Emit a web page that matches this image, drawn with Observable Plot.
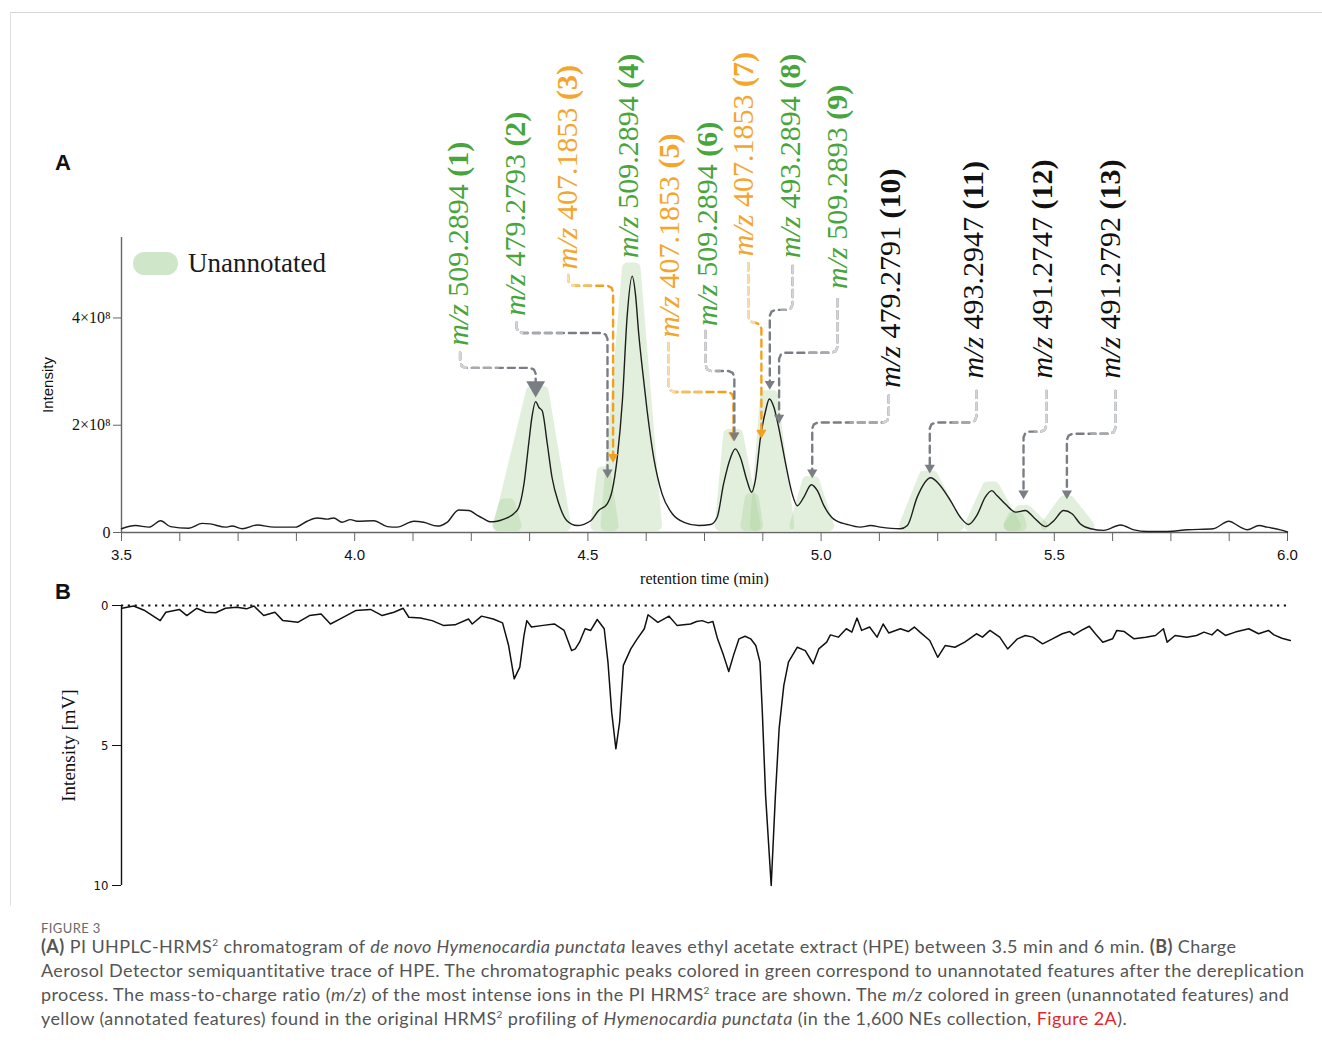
<!DOCTYPE html>
<html><head><meta charset="utf-8">
<script src="https://cdn.jsdelivr.net/npm/d3@7"></script>
<script src="https://cdn.jsdelivr.net/npm/@observablehq/plot@0.6"></script>
<style>
body{margin:0;background:#fff;width:1322px;height:1050px;position:relative;overflow:hidden;font-family:"Liberation Sans",Arial,sans-serif;}
#box{position:absolute;left:10px;top:12px;width:1312px;height:893px;border-top:1px solid #d4d4d4;border-left:1px solid #e0e0e0;}
.panel{position:absolute;left:0;}
#A{top:30px}
#B{top:595px}
.plab{position:absolute;left:55px;font:bold 22px "Liberation Sans",Arial,sans-serif;color:#111}
#legend{position:absolute;left:133px;top:248px;display:flex;align-items:center;}
#legend .sw{width:45px;height:23px;border-radius:12px;background:#d0e6c8;}
#legend span{margin-left:10px;font:27px "Liberation Serif","Times New Roman",serif;color:#1a1a1a}
#figno{position:absolute;left:41px;top:920px;font:13px Lato,"Open Sans",sans-serif;color:#6b6b6b;letter-spacing:0.4px}
#cap{position:absolute;left:41px;top:934px;font:18px/24px Lato,"Open Sans",sans-serif;letter-spacing:0.42px;color:#555;white-space:nowrap}
#cap .red{color:#e3262d}
#cap sup{font-size:10px;line-height:0;vertical-align:7px}
</style></head>
<body>
<div id="box"></div>
<div class="plab" style="top:150px">A</div>
<div class="plab" style="top:579px">B</div>
<div id="A" class="panel"></div>
<div id="B" class="panel"></div>
<div id="legend"><div class="sw"></div><span>Unannotated</span></div>
<div id="figno">FIGURE 3</div>
<div id="cap"><b>(A)</b> PI UHPLC-HRMS<sup>2</sup> chromatogram of <i>de novo Hymenocardia punctata</i> leaves ethyl acetate extract (HPE) between 3.5 min and 6 min. <b>(B)</b> Charge<br>Aerosol Detector semiquantitative trace of HPE. The chromatographic peaks colored in green correspond to unannotated features after the dereplication<br>process. The mass-to-charge ratio (<i>m/z</i>) of the most intense ions in the PI HRMS<sup>2</sup> trace are shown. The <i>m/z</i> colored in green (unannotated features) and<br>yellow (annotated features) found in the original HRMS<sup>2</sup> profiling of <i>Hymenocardia punctata</i> (in the 1,600 NEs collection, <span class="red">Figure 2A</span>).</div>
<script>
// ---------- DATA ----------
// Panel A: PI UHPLC-HRMS2 trace (retention time in min, intensity in 1e8)
const traceA_t = [3.500,3.530,3.559,3.584,3.605,3.644,3.673,3.690,3.723,3.737,3.759,3.791,3.827,3.873,3.898,3.920,3.941,3.955,3.973,3.991,4.005,4.041,4.070,4.091,4.127,4.148,4.177,4.198,4.223,4.245,4.263,4.276,4.290,4.305,4.320,4.341,4.352,4.363,4.373,4.380,4.388,4.395,4.402,4.413,4.423,4.438,4.455,4.477,4.506,4.523,4.541,4.552,4.563,4.574,4.584,4.595,4.602,4.609,4.616,4.627,4.641,4.659,4.681,4.706,4.738,4.763,4.777,4.791,4.806,4.816,4.827,4.841,4.851,4.859,4.870,4.881,4.889,4.899,4.909,4.924,4.938,4.949,4.963,4.979,4.992,5.006,5.027,5.056,5.084,5.106,5.127,5.170,5.185,5.206,5.235,5.252,5.277,5.299,5.316,5.334,5.352,5.366,5.377,5.395,5.417,5.438,5.456,5.481,5.499,5.520,5.538,5.556,5.578,5.606,5.642,5.671,5.699,5.742,5.785,5.841,5.874,5.899,5.914,5.939,5.956,5.985,6.000];
const traceA_I = [0.07,0.13,0.10,0.22,0.11,0.08,0.17,0.16,0.10,0.12,0.07,0.14,0.10,0.10,0.21,0.27,0.25,0.27,0.19,0.24,0.21,0.22,0.11,0.10,0.21,0.19,0.12,0.19,0.42,0.41,0.32,0.26,0.20,0.21,0.25,0.35,0.47,0.91,1.65,2.15,2.44,2.33,2.27,1.65,1.03,0.53,0.22,0.13,0.22,0.41,0.53,0.78,1.40,2.46,4.01,4.78,4.44,3.70,3.11,2.27,1.40,0.72,0.35,0.19,0.13,0.15,0.28,0.91,1.40,1.56,1.40,0.97,0.75,0.97,1.77,2.27,2.49,2.33,1.96,1.28,0.72,0.50,0.66,0.89,0.78,0.50,0.25,0.15,0.10,0.13,0.10,0.07,0.13,0.66,1.02,0.91,0.60,0.28,0.15,0.32,0.66,0.78,0.69,0.53,0.38,0.41,0.28,0.11,0.22,0.41,0.35,0.16,0.07,0.04,0.14,0.05,0.02,0.02,0.05,0.07,0.21,0.10,0.05,0.13,0.10,0.05,0.01];

// Panel B: Charged Aerosol Detector trace (mV, drawn downward)
const traceB_t = [3.501,3.526,3.550,3.583,3.595,3.624,3.640,3.661,3.681,3.702,3.723,3.747,3.768,3.784,3.805,3.829,3.846,3.878,3.903,3.928,3.948,3.969,4.002,4.034,4.059,4.084,4.104,4.116,4.141,4.166,4.190,4.215,4.244,4.252,4.272,4.297,4.317,4.330,4.342,4.354,4.363,4.369,4.379,4.404,4.428,4.449,4.465,4.473,4.482,4.494,4.506,4.520,4.535,4.543,4.551,4.560,4.568,4.576,4.592,4.605,4.621,4.629,4.650,4.674,4.691,4.720,4.733,4.745,4.758,4.768,4.778,4.791,4.802,4.812,4.824,4.837,4.849,4.860,4.869,4.874,4.881,4.893,4.902,4.910,4.920,4.930,4.949,4.966,4.983,4.995,5.012,5.020,5.037,5.054,5.066,5.077,5.087,5.104,5.120,5.133,5.145,5.170,5.187,5.200,5.212,5.233,5.250,5.266,5.287,5.308,5.333,5.346,5.362,5.383,5.400,5.421,5.438,5.454,5.475,5.496,5.517,5.533,5.542,5.558,5.575,5.588,5.604,5.625,5.634,5.650,5.671,5.696,5.717,5.734,5.742,5.759,5.784,5.805,5.821,5.838,5.850,5.867,5.888,5.917,5.938,5.959,5.971,5.988,6.006];
const traceB_v = [0.10,0.02,0.18,0.54,0.24,0.14,0.36,0.10,0.24,0.26,0.10,0.06,0.12,0.02,0.36,0.24,0.54,0.60,0.36,0.30,0.66,0.48,0.18,0.14,0.36,0.24,0.10,0.42,0.45,0.54,0.71,0.69,0.48,0.66,0.38,0.48,0.62,1.43,2.62,2.20,1.07,0.54,0.77,0.71,0.66,0.89,1.61,1.55,1.31,0.83,0.89,0.50,0.83,2.02,3.81,5.12,4.17,2.14,1.55,1.21,0.83,0.33,0.60,0.38,0.71,0.66,0.57,0.54,0.62,0.57,1.19,1.79,2.36,1.79,1.19,1.10,1.19,1.43,2.02,3.81,6.79,10.0,6.79,4.40,2.86,2.02,1.49,1.61,2.08,1.55,1.31,1.05,1.13,0.83,0.95,0.45,0.89,0.77,1.13,0.66,0.98,0.83,0.93,0.77,0.95,1.25,1.85,1.43,1.49,1.31,1.01,1.13,0.89,1.13,1.55,1.19,1.07,1.13,1.37,1.19,1.01,0.93,1.05,0.89,0.74,1.01,1.31,1.19,0.89,0.93,1.19,1.13,1.07,0.83,1.31,1.07,1.13,1.07,0.95,1.05,0.86,1.07,0.95,0.83,1.01,0.89,1.05,1.17,1.25];

// Unannotated (green) peak regions: left foot, top-left, top-right, right foot, height (1e8)
const blobL   = [4.308,4.310,4.518,4.540,4.785,4.840,4.860,4.945,5.180,5.320,5.405,5.404,5.484];
const blobTL  = [4.322,4.380,4.532,4.586,4.803,4.849,4.882,4.972,5.222,5.358,5.428,5.412,5.522];
const blobTR  = [4.333,4.405,4.538,4.602,4.822,4.856,4.897,4.986,5.240,5.372,5.442,5.424,5.533];
const blobR   = [4.347,4.453,4.555,4.648,4.860,4.865,4.932,5.017,5.296,5.418,5.475,5.430,5.575];
const blobTop = [0.52,2.62,1.12,4.92,1.82,0.62,2.54,0.94,1.04,0.84,0.40,0.28,0.58];

// m/z labels
const labelText = ["m/z 509.2894 (1)","m/z 479.2793 (2)","m/z 407.1853 (3)","m/z 509.2894 (4)","m/z 407.1853 (5)","m/z 509.2894 (6)","m/z 407.1853 (7)","m/z 493.2894 (8)","m/z 509.2893 (9)","m/z 479.2791 (10)","m/z 493.2947 (11)","m/z 491.2747 (12)","m/z 491.2792 (13)"];
const labelKind = ["unannotated","unannotated","annotated","unannotated","annotated","unannotated","annotated","unannotated","unannotated","new","new","new","new"];
const labelT    = [4.2226,4.3448,4.4563,4.5871,4.675,4.7564,4.8336,4.9344,5.0352,5.1488,5.3268,5.4747,5.6205];
const labelI    = [3.48,4.04,4.91,5.12,3.63,3.85,5.15,5.12,4.54,2.70,2.87,2.87,2.87];

// leader lines: label foot (t, I), elbow level, target retention time, arrow level
const connKind    = ["neutral","neutral","annotated","annotated","neutral","annotated","neutral","neutral","neutral","neutral","neutral","neutral"];
const connT0      = [4.226,4.347,4.458,4.673,4.752,4.844,4.939,5.035,5.145,5.333,5.483,5.631];
const connStartI  = [3.35,3.91,4.80,3.53,3.76,5.02,4.97,4.35,2.55,2.64,2.64,2.64];
const connElbowI  = [3.07,3.72,4.60,2.62,3.01,3.91,4.15,3.35,2.05,2.05,1.88,1.84];
const connTargetT = [4.388,4.542,4.554,4.812,4.814,4.872,4.890,4.910,4.981,5.233,5.434,5.527];
const connArrowI  = [2.72,1.12,1.41,1.81,1.81,1.86,2.77,2.14,1.12,1.21,0.73,0.73];

// axes
const xMajor = [3.5,4.0,4.5,5.0,5.5,6.0];
const xMinor = [3.625,3.75,3.875,4.125,4.25,4.375,4.625,4.75,4.875,5.125,5.25,5.375,5.625,5.75,5.875];
const yTicksA = [0,2,4];
const yTicksB = [0,5,10];

// ---------- BUILD ----------
const serif = '"Liberation Serif","Times New Roman",serif';
const sans = '"Liberation Sans",Arial,sans-serif';
const narrow = '"Liberation Sans Narrow","Arial Narrow","DejaVu Sans Condensed",sans-serif';
const labelColor = {unannotated: "#48a53b", annotated: "#f4a52a", new: "#111"};
const conn3 = {neutral: ["#7a7e84","#a6a9ad","#d2d4d6"], annotated: ["#f3a01c","#f6bd63","#fadcab"]};

const traceA = traceA_t.map((t, i) => ({t, I: traceA_I[i]}));
const traceB = traceB_t.map((t, i) => ({t, v: traceB_v[i]}));
const blobBase = 0.12;
const blobs = blobL.map((l, i) => [
  {t: l, I: blobBase}, {t: blobTL[i], I: blobTop[i]}, {t: blobTR[i], I: blobTop[i]}, {t: blobR[i], I: blobBase}
]);
const labels = labelText.map((text, i) => ({text, t: labelT[i], I: labelI[i], color: labelColor[labelKind[i]]}));

function connPts(i) {
  const t0 = connT0[i], s = connStartI[i], e = connElbowI[i], t1 = connTargetT[i], a = connArrowI[i];
  const sg = Math.sign(t1 - t0) || 1;
  const rx = Math.min(0.012, Math.abs(t1 - t0) / 2), ry = Math.min(0.11, (s - e) / 2), ry2 = 0.11;
  const full = [[t0, s], [t0, e + ry], [t0 + sg * rx * 0.3, e + ry * 0.3], [t0 + sg * rx, e],
                [t1 - sg * rx, e], [t1 - sg * rx * 0.3, e - ry2 * 0.3], [t1, e - ry2], [t1, a]];
  const light = full.slice(0, 4);
  const mid = full.slice(0, 4).concat([[(t0 + t1) / 2, e]]);
  return {full, light, mid};
}
const connRows = {full: [], mid: [], light: []};
connT0.forEach((_, i) => {
  const p = connPts(i), cols = conn3[connKind[i]];
  p.full.forEach(([t, I]) => connRows.full.push({id: i, t, I, c: cols[0]}));
  p.mid.forEach(([t, I]) => connRows.mid.push({id: i, t, I, c: cols[1]}));
  p.light.forEach(([t, I]) => connRows.light.push({id: i, t, I, c: cols[2]}));
});
const arrows = connT0.map((_, i) => ({t: connTargetT[i], I: connArrowI[i], c: connKind[i] === "annotated" ? "#f3a01c" : "#7a7e84", big: i === 0}));

const dash = {strokeDasharray: "7,5", strokeWidth: 2.4, curve: "linear", strokeLinejoin: "round"};

const plotA = Plot.plot({
  width: 1322, height: 572, marginTop: 207, marginBottom: 70, marginLeft: 121, marginRight: 35,
  x: {domain: [3.5, 6.0]},
  y: {domain: [0, 5.5]},
  color: {type: "identity"},
  style: {background: "transparent", overflow: "visible", color: "#111"},
  marks: [
    ...blobs.map(b => Plot.areaY(b, {x: "t", y1: blobBase, y2: "I", fill: "#aad29b", stroke: "#aad29b", strokeWidth: 11, strokeLinejoin: "round", opacity: 0.34})),
    Plot.ruleY([0], {stroke: "#666", strokeWidth: 1.4}),
    Plot.ruleX([3.5], {stroke: "#666", strokeWidth: 1.4}),
    Plot.axisX({ticks: xMinor, tickSize: 9, tickFormat: () => "", stroke: "#666", label: null}),
    Plot.axisX({ticks: xMajor, tickSize: 9, tickPadding: 8, tickFormat: d3.format(".1f"), fontSize: 15, fontFamily: sans, stroke: "#666", label: null}),
    Plot.axisY({ticks: yTicksA, tickSize: 8, tickPadding: 3, fontSize: 16, fontFamily: serif, stroke: "#666", label: null,
      tickFormat: d => d === 0 ? "0" : `${d}×10⁸`}),
    Plot.text(["Intensity"], {text: d => d, frameAnchor: "left", textAnchor: "middle", dx: -73, rotate: -90, fontSize: 15, fontFamily: sans}),
    Plot.text(["retention time (min)"], {text: d => d, frameAnchor: "bottom", dy: 51, fontSize: 16, fontFamily: serif}),
    Plot.line(traceA, {x: "t", y: "I", stroke: "#1e1e1e", strokeWidth: 1.4, curve: "monotone-x"}),
    Plot.line(connRows.full, {x: "t", y: "I", z: "id", stroke: "c", ...dash}),
    Plot.line(connRows.mid, {x: "t", y: "I", z: "id", stroke: "c", ...dash}),
    Plot.line(connRows.light, {x: "t", y: "I", z: "id", stroke: "c", ...dash}),
    Plot.dot(arrows.filter(d => !d.big), {x: "t", y: "I", symbol: "triangle", rotate: 180, r: 3.8, fill: "c", stroke: "none"}),
    Plot.dot(arrows.filter(d => d.big), {x: "t", y: "I", symbol: "triangle", rotate: 180, r: 7, fill: "c", stroke: "none"}),
    Plot.text(labels, {x: "t", y: "I", text: "text", rotate: -90, textAnchor: "start", fill: "color", fontSize: 30, fontFamily: serif})
  ]
});

// mixed styles inside each label: italic m/z, plain value, bold index
const NS = "http://www.w3.org/2000/svg";
plotA.querySelectorAll("text").forEach(el => {
  const m = el.textContent.match(/^(m\/z) (\S+) (\(\d+\))$/);
  if (!m) return;
  el.textContent = "";
  const a = document.createElementNS(NS, "tspan"); a.setAttribute("font-style", "italic"); a.textContent = m[1];
  const b = document.createTextNode(" " + m[2] + " ");
  const c = document.createElementNS(NS, "tspan"); c.setAttribute("font-weight", "bold"); c.textContent = m[3];
  el.append(a, b, c);
});
document.getElementById("A").append(plotA);

const plotB = Plot.plot({
  width: 1322, height: 300, marginTop: 10, marginBottom: 10, marginLeft: 121, marginRight: 35,
  x: {domain: [3.5, 6.0], axis: null},
  y: {domain: [0, 10], reverse: true},
  style: {background: "transparent", overflow: "visible", color: "#111"},
  marks: [
    Plot.ruleY([0], {x1: 3.5, x2: 6.007, stroke: "#111", strokeWidth: 2.2, strokeDasharray: "2.2,4.6"}),
    Plot.ruleX([3.5], {stroke: "#111", strokeWidth: 1.4}),
    Plot.axisY({ticks: yTicksB, tickSize: 9, tickPadding: 4, fontSize: 13, fontFamily: narrow, stroke: "#111", label: null, tickFormat: d => String(d)}),
    Plot.text(["Intensity [mV]"], {text: d => d, frameAnchor: "left", textAnchor: "middle", dx: -53, rotate: -90, fontSize: 19, fontFamily: serif}),
    Plot.line(traceB, {x: "t", y: "v", stroke: "#111", strokeWidth: 1.5})
  ]
});
document.getElementById("B").append(plotB);
</script>
</body></html>
